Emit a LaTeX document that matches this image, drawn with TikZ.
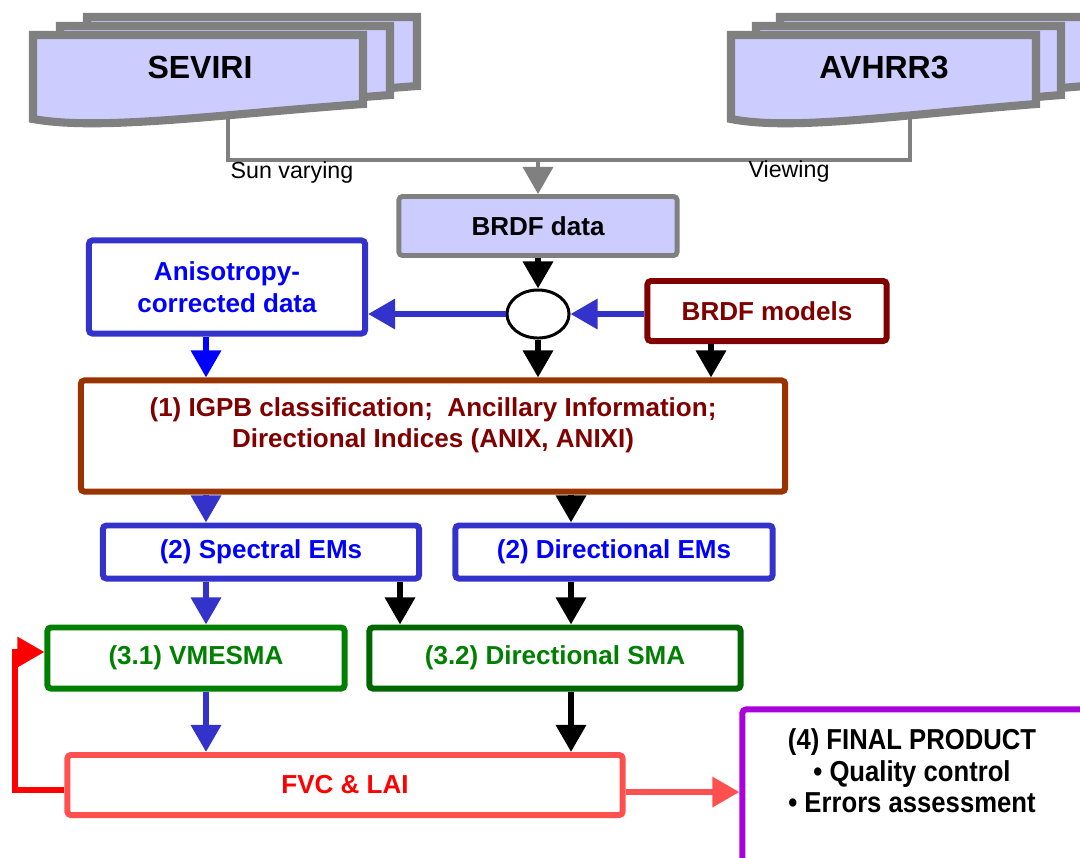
\documentclass[tikz,border=0pt]{standalone}
\usepackage{fontspec}
\setmainfont{Liberation Sans}
\newfontfamily\etroite[FakeStretch=0.89]{Liberation Sans}
\usetikzlibrary{arrows.meta,shapes.geometric,calc}

\definecolor{lavande}{RGB}{204,204,255}
\definecolor{gris}{RGB}{128,128,128}
\definecolor{bleufonce}{RGB}{51,51,204}
\definecolor{bleu}{RGB}{0,0,255}
\definecolor{bordeaux}{RGB}{128,0,0}
\definecolor{brique}{RGB}{153,51,0}
\definecolor{vert}{RGB}{0,128,0}
\definecolor{vertfonce}{RGB}{0,102,0}
\definecolor{rose}{RGB}{255,80,80}
\definecolor{rouge}{RGB}{255,0,0}
\definecolor{pourpre}{RGB}{170,0,221}

% feuille d'une pile : x, y, largeur
\newcommand{\feuille}[3]{%
  \filldraw[pile] (#1,#2) -- (#1+#3,#2) -- (#1+#3,#2+69)
    .. controls (#1+0.55*#3,#2+80) and (#1+0.2*#3,#2+96) .. (#1,#2+84) -- cycle;}

\begin{document}
\begin{tikzpicture}[x=0.01cm, y=-0.01cm,
  pile/.style={fill=lavande, draw=gris, line width=2.3pt},
  boite/.style={draw, fill=white, line width=1.7pt, rounded corners=1pt, inner sep=0pt,
    align=center, font=\bfseries\fontsize{7.4}{9.1}\selectfont},
  fleche/.style={line width=1.7pt, -{Triangle[length=7.7pt,width=8.3pt]}},
  lien/.style={draw=gris, line width=1.15pt}]
\useasboundingbox (0,0) rectangle (1080,857);
\clip (0,0) rectangle (1080,857);
%
% Pile SEVIRI
\feuille{87}{17}{330}
\feuille{60}{26}{330}
\feuille{33}{35}{330}
\node[font=\bfseries\fontsize{9.1}{11}\selectfont] (seviri) at (200,67) {SEVIRI};
% Pile AVHRR3
\feuille{780}{17}{305}
\feuille{756}{26}{305}
\feuille{731}{35}{305}
\node[font=\bfseries\fontsize{9.1}{11}\selectfont] (avhrr) at (884,67) {AVHRR3};
\coordinate (sevbas) at (228,116);
\coordinate (avhbas) at (910,114);
%
% Donnees BRDF
\node[boite, draw=gris, fill=lavande, line width=1.4pt, minimum width=2.78cm, minimum height=0.59cm] (donnees) at (538,226) {BRDF data};
\coordinate (jonction) at (538,160);
\draw[lien] (sevbas) |- (jonction) -| (avhbas);
\draw[lien, -{Triangle[length=7.7pt,width=8.5pt]}] (jonction) -- (donnees);
\node[font=\fontsize{6.6}{8}\selectfont] (soleil) at (292,172) {Sun varying};
\node[font=\fontsize{6.6}{8}\selectfont] (visee) at (789,171) {Viewing};
%
% Combinaison
\node[ellipse, draw, line width=0.85pt, minimum width=0.62cm, minimum height=0.48cm, inner sep=0pt] (rond) at (538,314) {};
\node[boite, draw=bordeaux, text=bordeaux, minimum width=2.39cm, minimum height=0.6cm] (modeles) at (767,311) {BRDF models};
\node[boite, draw=bleufonce, text=bleu, minimum width=2.76cm, minimum height=0.93cm] (anis) at (227,287) {Anisotropy-\\corrected data};
%
% (1) Classification
\node[boite, draw=brique, minimum width=7.04cm, minimum height=1.11cm] (igbp) at (433,436) {};
\node[font=\bfseries\fontsize{7.4}{8.8}\selectfont, text=bordeaux, align=center] (igbptxt) at (433,425) {(1) IGPB classification;\ \ Ancillary Information;\\Directional Indices (ANIX, ANIXI)};
%
% (2) Membres purs
\node[boite, draw=bleufonce, text=bleu, minimum width=3.16cm, minimum height=0.53cm] (spec) at (261,552) {(2) Spectral EMs};
\node[boite, draw=bleufonce, text=bleu, minimum width=3.17cm, minimum height=0.53cm] (direm) at (614,552) {(2) Directional EMs};
%
% (3) Demelange
\node[boite, draw=vert, text=vert, minimum width=2.97cm, minimum height=0.61cm] (vmesma) at (196,658) {(3.1) VMESMA};
\node[boite, draw=vertfonce, text=vert, minimum width=3.71cm, minimum height=0.61cm] (dirsma) at (555,658) {(3.2) Directional SMA};
%
% FVC et LAI, produit final
\node[boite, draw=rose, text=rouge, minimum width=5.55cm, minimum height=0.6cm] (fvc) at (345,785) {FVC \& LAI};
\node[boite, draw=pourpre, minimum width=3.67cm, minimum height=1.81cm] (produit) at (926,800) {};
\node[font=\etroite\bfseries\fontsize{8.2}{9}\selectfont, align=center] (produittxt) at (912,771) {(4) FINAL PRODUCT\\ • Quality control\\ • Errors assessment};
%
% Colonnes des fleches
\coordinate (colA) at (206,0);
\coordinate (colB) at (571,0);
\coordinate (colC) at (400,0);
\coordinate (colD) at (711,0);
\coordinate (coin) at (15,652);
%
% Fleches
\draw[fleche] (donnees) -- (rond);
\draw[fleche, bleufonce] (rond) -- (rond -| anis.east);
\draw[fleche, bleufonce] (rond.east -| modeles.west) -- (rond.east);
\draw[fleche] (rond) -- (rond |- igbp.north);
\draw[fleche] (modeles.south -| colD) -- (igbp.north -| colD);
\draw[fleche, bleu] (anis.south -| colA) -- (igbp.north -| colA);
\draw[fleche, bleufonce] (igbp.south -| colA) -- (spec.north -| colA);
\draw[fleche] (igbp.south -| colB) -- (direm.north -| colB);
\draw[fleche, bleufonce] (spec.south -| colA) -- (vmesma.north -| colA);
\draw[fleche] (spec.south -| colC) -- (dirsma.north -| colC);
\draw[fleche] (direm.south -| colB) -- (dirsma.north -| colB);
\draw[fleche, bleufonce] (vmesma.south -| colA) -- (fvc.north -| colA);
\draw[fleche] (dirsma.south -| colB) -- (fvc.north -| colB);
\draw[fleche, rose] ([yshift=-2pt]fvc.east) -- ([yshift=-2pt]fvc.east -| produit.west);
\draw[fleche, rouge] ([yshift=-1.5pt]fvc.west) -| (coin) -- (coin -| vmesma.west);
\end{tikzpicture}
\end{document}
